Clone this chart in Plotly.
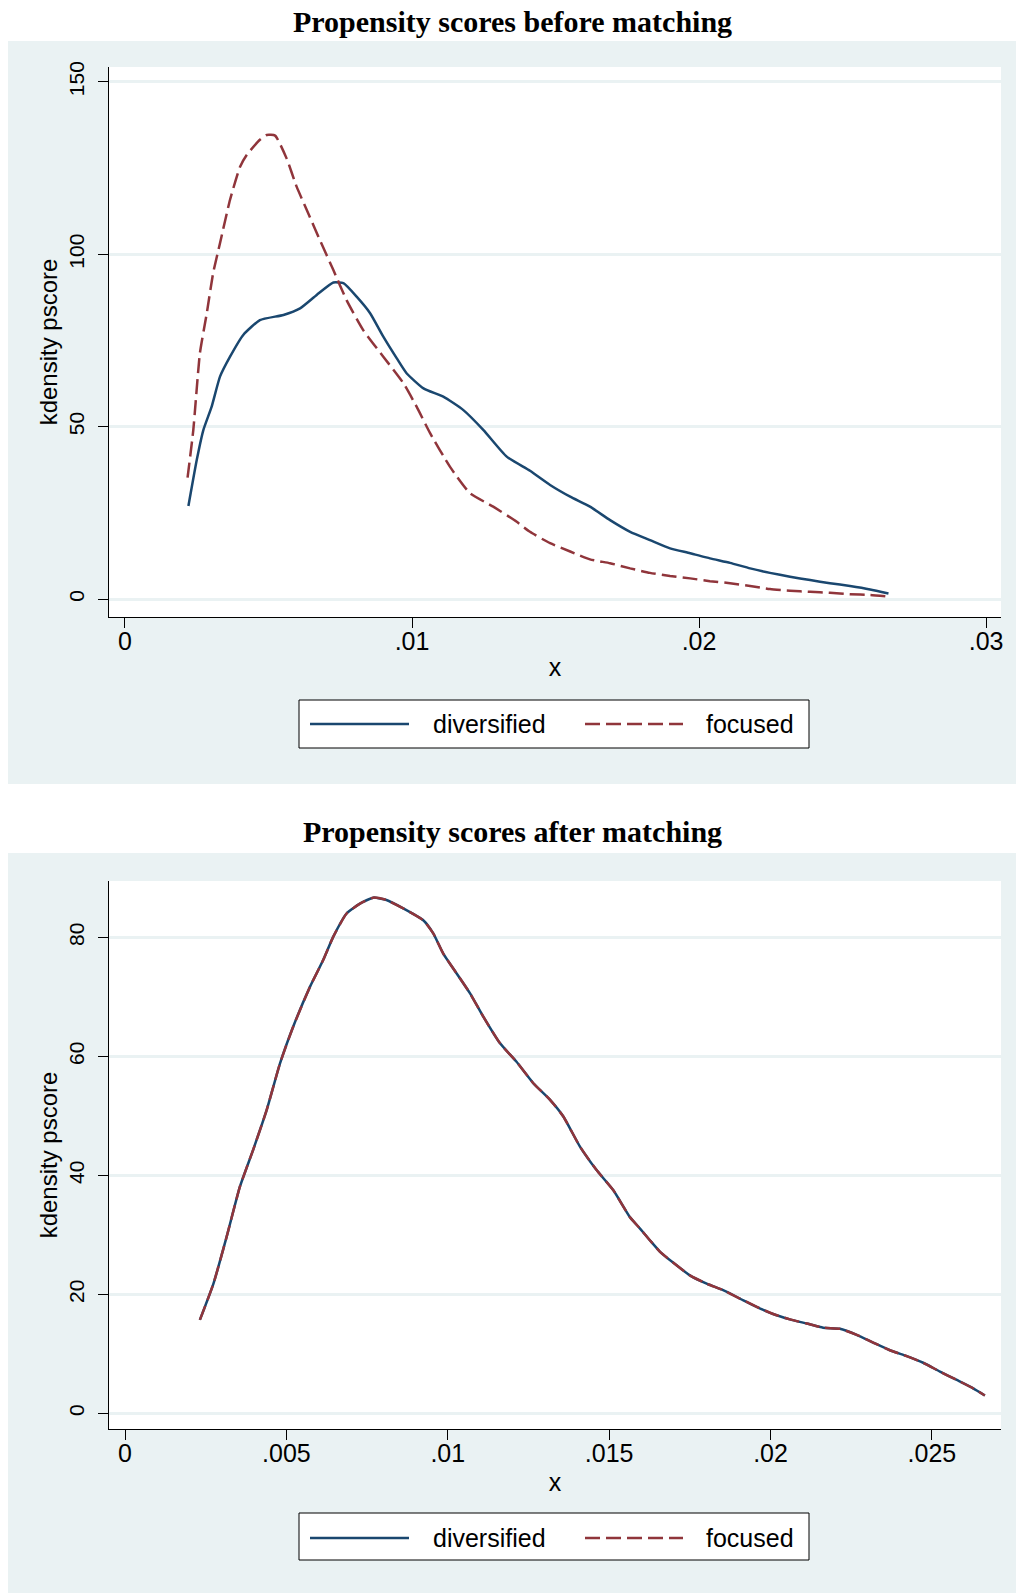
import plotly.graph_objects as go

# ---------------- data ----------------
before_x_diversified = [0.00221, 0.00250, 0.00273, 0.00302, 0.00331, 0.00366, 0.00412, 0.00470, 0.00552,
                        0.00610, 0.00668, 0.00726, 0.00761, 0.00807, 0.00854, 0.00900, 0.00947, 0.00981,
                        0.01040, 0.01109, 0.01179, 0.01249, 0.01330, 0.01411, 0.01481, 0.01551, 0.01620,
                        0.01690, 0.01760, 0.01829, 0.01899, 0.01969, 0.02038, 0.02108, 0.02178, 0.02247,
                        0.02317, 0.02387, 0.02456, 0.02526, 0.02596, 0.02660]
before_y_diversified = [27.0, 40.3, 49.0, 55.8, 64.5, 70.3, 76.6, 80.9, 82.4,
                        84.3, 88.2, 91.8, 91.6, 87.7, 82.9, 76.1, 69.8, 65.5,
                        61.1, 58.7, 54.8, 49.0, 41.3, 37.2, 33.1, 29.7, 26.8,
                        22.9, 19.5, 17.1, 14.7, 13.3, 11.8, 10.5, 8.9, 7.6,
                        6.5, 5.5, 4.6, 3.8, 2.8, 1.6]

before_x_focused = [0.00218, 0.00238, 0.00261, 0.00285, 0.00307, 0.00331, 0.00366, 0.00401, 0.00424,
                    0.00470, 0.00494, 0.00523, 0.00563, 0.00598, 0.00633, 0.00679, 0.00726, 0.00772,
                    0.00830, 0.00900, 0.00970, 0.01016, 0.01063, 0.01132, 0.01202, 0.01283, 0.01365,
                    0.01411, 0.01481, 0.01551, 0.01620, 0.01690, 0.01760, 0.01829, 0.01899, 0.01969,
                    0.02038, 0.02108, 0.02178, 0.02247, 0.02317, 0.02387, 0.02456, 0.02526, 0.02596,
                    0.02663]
before_y_focused = [35.2, 49.0, 71.3, 82.9, 94.5, 103.2, 115.8, 125.4, 128.8,
                    133.2, 134.6, 134.4, 127.8, 119.6, 112.9, 104.1, 95.4, 86.7,
                    78.0, 70.3, 62.6, 55.8, 48.1, 38.4, 30.7, 26.8, 22.4,
                    19.5, 16.2, 13.8, 11.5, 10.4, 8.9, 7.6, 6.7, 6.0,
                    5.2, 4.6, 3.8, 2.9, 2.4, 2.1, 1.8, 1.4, 1.2,
                    0.7]

after_x = [0.00232, 0.00274, 0.00315, 0.00356, 0.00397, 0.00439, 0.00480, 0.00521, 0.00573,
           0.00614, 0.00645, 0.00686, 0.00728, 0.00769, 0.00810, 0.00862, 0.00924, 0.00955,
           0.00986, 0.01027, 0.01069, 0.01110, 0.01162, 0.01213, 0.01265, 0.01317, 0.01358,
           0.01410, 0.01461, 0.01513, 0.01564, 0.01595, 0.01626, 0.01657, 0.01699, 0.01750,
           0.01802, 0.01853, 0.01905, 0.01957, 0.02008, 0.02060, 0.02112, 0.02163, 0.02215,
           0.02267, 0.02318, 0.02370, 0.02422, 0.02473, 0.02525, 0.02577, 0.02628, 0.02664]
after_y_diversified = [15.7, 21.8, 29.7, 38.1, 44.3, 51.0, 58.8, 65.0, 71.7,
                       76.2, 80.1, 84.0, 85.7, 86.7, 86.3, 84.9, 82.9, 80.7,
                       77.3, 74.0, 70.6, 66.7, 62.2, 59.1, 55.5, 52.7, 49.9,
                       44.8, 40.9, 37.5, 33.0, 31.1, 29.1, 27.2, 25.3, 23.2,
                       21.8, 20.7, 19.3, 17.9, 16.7, 15.8, 15.1, 14.4, 14.2,
                       13.2, 11.9, 10.6, 9.6, 8.5, 7.0, 5.6, 4.2, 3.0]
after_y_focused = [15.7, 21.8, 29.7, 38.1, 44.3, 51.0, 58.8, 65.0, 71.7,
                   76.2, 80.1, 84.0, 85.7, 86.7, 86.3, 84.9, 82.9, 80.7,
                   77.3, 74.0, 70.6, 66.7, 62.2, 59.1, 55.5, 52.7, 49.9,
                   44.8, 40.9, 37.5, 33.0, 31.1, 29.1, 27.2, 25.3, 23.2,
                   21.8, 20.7, 19.3, 17.9, 16.7, 15.8, 15.1, 14.4, 14.2,
                   13.2, 11.9, 10.6, 9.6, 8.5, 7.0, 5.6, 4.2, 3.0]

series_names = ["diversified", "focused"]
titles = ["Propensity scores before matching", "Propensity scores after matching"]
y_title = "kdensity pscore"
x_title = "x"
before_xticks = [0, 0.01, 0.02, 0.03]
before_xticklabels = ["0", ".01", ".02", ".03"]
before_yticks = [0, 50, 100, 150]
before_yticklabels = ["0", "50", "100", "150"]
after_xticks = [0, 0.005, 0.01, 0.015, 0.02, 0.025]
after_xticklabels = ["0", ".005", ".01", ".015", ".02", ".025"]
after_yticks = [0, 20, 40, 60, 80]
after_yticklabels = ["0", "20", "40", "60", "80"]

# ---------------- style ----------------
W, H = 1016, 1593
BLUE = "#1A476F"
RED = "#90353B"
BG = "#EAF2F3"
SANS = "Liberation Sans, Arial, sans-serif"
SERIF = "Liberation Serif, Times New Roman, serif"
DASH = "15px,6px"


def px_x(v):
    return v / W


def px_y(v):
    return 1 - v / H


fig = go.Figure()

fig.add_trace(go.Scatter(x=before_x_diversified, y=before_y_diversified, name=series_names[0],
                         mode="lines", line=dict(color=BLUE, width=2.5, shape="spline", smoothing=0.5),
                         xaxis="x", yaxis="y", showlegend=False))
fig.add_trace(go.Scatter(x=before_x_focused, y=before_y_focused, name=series_names[1],
                         mode="lines", line=dict(color=RED, width=2.5, dash=DASH, shape="spline", smoothing=0.5),
                         xaxis="x", yaxis="y", showlegend=False))
fig.add_trace(go.Scatter(x=after_x, y=after_y_diversified, name=series_names[0],
                         mode="lines", line=dict(color=BLUE, width=2.5, shape="spline", smoothing=0.5),
                         xaxis="x2", yaxis="y2", showlegend=False))
fig.add_trace(go.Scatter(x=after_x, y=after_y_focused, name=series_names[1],
                         mode="lines", line=dict(color=RED, width=2.5, dash=DASH, shape="spline", smoothing=0.5),
                         xaxis="x2", yaxis="y2", showlegend=False))

tickfont = dict(family=SANS, size=25, color="black")
ytickfont = dict(family=SANS, size=21, color="black")
titlefont = dict(family=SANS, size=24, color="black")
xtitlefont = dict(family=SANS, size=25, color="black")

common_x = dict(showline=True, linecolor="black", linewidth=1, ticks="outside", ticklen=10,
                tickcolor="black", tickwidth=1, showgrid=False, zeroline=False, automargin=False,
                tickfont=tickfont, tickmode="array", ticklabelstandoff=-8)
common_y = dict(showline=True, linecolor="black", linewidth=1, ticks="outside", ticklen=10,
                tickcolor="black", tickwidth=1, showgrid=True, gridcolor=BG, gridwidth=2.5,
                zeroline=False, automargin=False, tickfont=ytickfont, tickangle=-90,
                tickmode="array", ticklabelstandoff=6)

xdom = [px_x(109), px_x(1001)]

fig.update_layout(
    width=W, height=H,
    margin=dict(l=0, r=0, t=0, b=0, pad=0, autoexpand=False),
    paper_bgcolor="white",
    plot_bgcolor="white",
    xaxis=dict(common_x, domain=xdom, anchor="y", range=[-0.000557, 0.03052],
               tickvals=before_xticks, ticktext=before_xticklabels,
               title=dict(text=x_title, font=xtitlefont, standoff=4)),
    yaxis=dict(common_y, domain=[px_y(617), px_y(67)], anchor="x", range=[-5.2, 154.3],
               tickvals=before_yticks, ticktext=before_yticklabels,
               title=dict(text=y_title, font=titlefont, standoff=0)),
    xaxis2=dict(common_x, domain=xdom, anchor="y2", range=[-0.000496, 0.02714],
                tickvals=after_xticks, ticktext=after_xticklabels,
                title=dict(text=x_title, font=xtitlefont, standoff=7)),
    yaxis2=dict(common_y, domain=[px_y(1429), px_y(881)], anchor="x2", range=[-2.64, 89.5],
                tickvals=after_yticks, ticktext=after_yticklabels,
                title=dict(text=y_title, font=titlefont, standoff=0)),
)

shapes = []
annotations = []

# panel backgrounds and white plot regions
for (top, bottom, ptop, pbottom) in [(41, 784, 67, 617), (853, H, 881, 1429)]:
    shapes.append(dict(type="rect", xref="paper", yref="paper", layer="below",
                       x0=px_x(8), x1=1, y0=px_y(bottom), y1=px_y(top),
                       fillcolor=BG, line=dict(width=0)))
    shapes.append(dict(type="rect", xref="paper", yref="paper", layer="below",
                       x0=xdom[0], x1=xdom[1], y0=px_y(pbottom), y1=px_y(ptop),
                       fillcolor="white", line=dict(width=0)))

# titles
for title, ty in zip(titles, [21, 831]):
    annotations.append(dict(text="<b>" + title + "</b>", xref="paper", yref="paper",
                            x=px_x(512), y=px_y(ty), xanchor="center", yanchor="middle",
                            showarrow=False, font=dict(family=SERIF, size=30, color="black")))

# legends (one per panel)
for (btop, bbottom, ly) in [(700, 748, 724), (1513, 1560, 1538)]:
    shapes.append(dict(type="rect", xref="paper", yref="paper", layer="above",
                       x0=px_x(299), x1=px_x(809), y0=px_y(bbottom), y1=px_y(btop),
                       fillcolor="white", line=dict(color="black", width=1)))
    shapes.append(dict(type="line", xref="paper", yref="paper", layer="above",
                       x0=px_x(310), x1=px_x(409), y0=px_y(ly), y1=px_y(ly),
                       line=dict(color=BLUE, width=2.5)))
    shapes.append(dict(type="line", xref="paper", yref="paper", layer="above",
                       x0=px_x(585), x1=px_x(683), y0=px_y(ly), y1=px_y(ly),
                       line=dict(color=RED, width=2.5, dash=DASH)))
    for name, lx in zip(series_names, [431, 704]):
        annotations.append(dict(text=name, xref="paper", yref="paper",
                                x=px_x(lx), y=px_y(ly), xanchor="left", yanchor="middle",
                                showarrow=False, font=dict(family=SANS, size=25, color="black")))

fig.update_layout(shapes=shapes, annotations=annotations)

fig.write_html(
    "out.html",
    config={"displayModeBar": False},
    post_script=(
        "document.documentElement.style.margin='0';"
        "document.body.style.margin='0';"
        "document.body.style.overflow='hidden';"
    ),
)
